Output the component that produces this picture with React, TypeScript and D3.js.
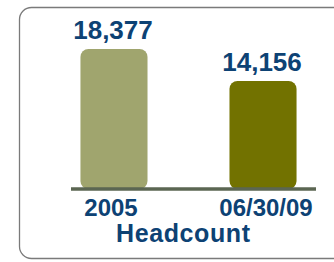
import React from "react";
import * as d3 from "d3";

const categories = ["2005", "06/30/09"];
const values = [18377, 14156];
const colors = ["#a0a56e", "#727200"];
const title = "Headcount";

export default function App() {
  const W = 334, H = 262;
  const x = d3.scaleBand<string>().domain(categories).range([66, 311]).paddingInner(0.55).paddingOuter(0.097);
  const y = d3.scaleLinear().domain([0, 18377]).range([188, 49]);
  const fmt = d3.format(",");
  const font = "'Liberation Sans', Arial, sans-serif";
  const blue = "#0d4274";
  return (
    <svg width={W} height={H} style={{ position: "absolute", left: 0, top: 0 }}>
      <rect x={19.5} y={7.5} width={340} height={251} rx={12} fill="#fff" stroke="#7a7a7a" strokeWidth={1.3} />
      {categories.map((c, i) => (
        <g key={c}>
          <rect x={x(c)} y={y(values[i])} width={x.bandwidth()} height={y(0) - y(values[i]) + 1} rx={8} fill={colors[i]} />
          <text x={x(c)! + x.bandwidth() / 2 - 1} y={y(values[i]) - 10} textAnchor="middle" fontFamily={font} fontWeight="bold" fontSize={26} fill={blue}>{fmt(values[i])}</text>
          <text x={x(c)! + x.bandwidth() / 2 + (i === 0 ? -3 : 3)} y={216} textAnchor="middle" fontFamily={font} fontWeight="bold" fontSize={24} fill={blue}>{c}</text>
        </g>
      ))}
      <line x1={71} x2={316} y1={189} y2={189} stroke="#5b6652" strokeWidth={3.5} />
      <text x={183} y={242} textAnchor="middle" fontFamily={font} fontWeight="bold" fontSize={25} fill={blue} textLength={134}>{title}</text>
    </svg>
  );
}
